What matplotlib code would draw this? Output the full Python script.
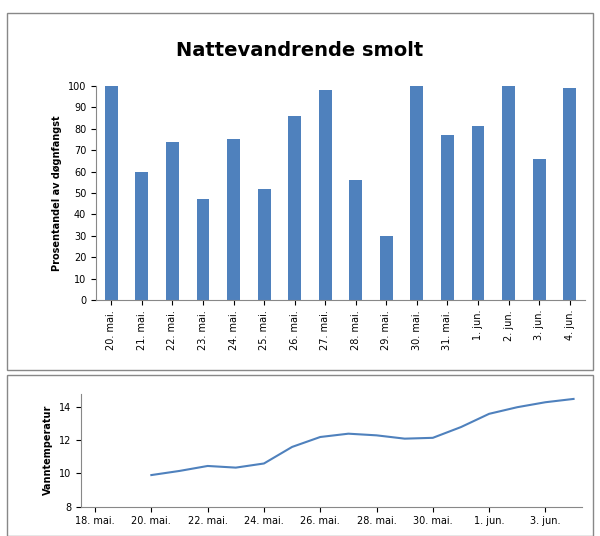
import numpy as np
import matplotlib.pyplot as plt
from matplotlib.patches import Rectangle

# Nattevandrende smolt, andel av døgnfangst
bar_labels = ['20. mai.', '21. mai.', '22. mai.', '23. mai.', '24. mai.', '25. mai.',
              '26. mai.', '27. mai.', '28. mai.', '29. mai.', '30. mai.', '31. mai.',
              '1. jun.', '2. jun.', '3. jun.', '4. jun.']
bar_values = [100, 60, 74, 47, 75, 52, 86, 98, 56, 30, 100, 77, 81, 100, 66, 99]

# Vanntemperatur, dag nr (18. mai = 0)
temp_days = [2, 3, 4, 5, 6, 7, 8, 9, 10, 11, 12, 13, 14, 15, 16, 17]
temp_values = [9.9, 10.15, 10.45, 10.35, 10.6, 11.6, 12.2, 12.4, 12.3, 12.1, 12.15,
               12.8, 13.6, 14.0, 14.3, 14.5]
temp_ticks = [0, 2, 4, 6, 8, 10, 12, 14, 16]
temp_ticklabels = ['18. mai.', '20. mai.', '22. mai.', '24. mai.', '26. mai.',
                   '28. mai.', '30. mai.', '1. jun.', '3. jun.']

blue = '#4F81BD'
fig = plt.figure(figsize=(6, 5.36), dpi=100)

# rammer
fig.patches.append(Rectangle((0.012, 0.31), 0.976, 0.665, transform=fig.transFigure,
                             fill=False, edgecolor='#888888', lw=1))
fig.patches.append(Rectangle((0.012, 0.0), 0.976, 0.30, transform=fig.transFigure,
                             fill=False, edgecolor='#888888', lw=1))

fig.text(0.5, 0.905, 'Nattevandrende smolt', ha='center', va='center',
         fontsize=14, fontweight='bold')

ax = fig.add_axes([0.16, 0.44, 0.815, 0.40])
x = np.arange(len(bar_values))
ax.bar(x, bar_values, width=0.42, color=blue)
ax.set_xlim(-0.5, len(bar_values) - 0.5)
ax.set_ylim(0, 100)
ax.set_yticks(range(0, 101, 10))
ax.set_xticks(x)
ax.set_xticklabels(bar_labels, rotation=90, fontsize=7)
ax.tick_params(axis='y', labelsize=7)
ax.set_ylabel('Prosentandel av døgnfangst', fontsize=7, fontweight='bold')
for s in ['top', 'right']:
    ax.spines[s].set_visible(False)
ax.spines['left'].set_color('#888888')
ax.spines['bottom'].set_color('#888888')

ax2 = fig.add_axes([0.135, 0.055, 0.835, 0.21])
ax2.plot(temp_days, temp_values, color=blue, lw=1.5)
ax2.set_xlim(-0.5, 17.3)
ax2.set_ylim(8, 14.8)
ax2.set_yticks([8, 10, 12, 14])
ax2.set_xticks(temp_ticks)
ax2.set_xticklabels(temp_ticklabels, fontsize=7)
ax2.tick_params(axis='y', labelsize=7)
ax2.set_ylabel('Vanntemperatur', fontsize=7, fontweight='bold')
for s in ['top', 'right']:
    ax2.spines[s].set_visible(False)
ax2.spines['left'].set_color('#888888')
ax2.spines['bottom'].set_color('#888888')

fig.savefig('out.png', dpi=100)
